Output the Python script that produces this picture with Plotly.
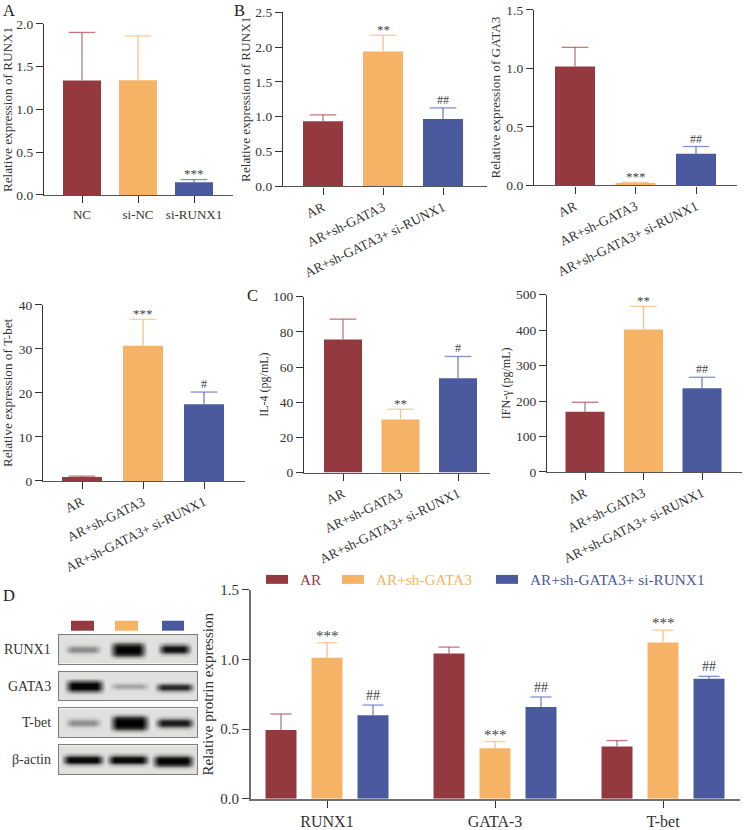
import plotly.graph_objects as go

W, H = 750, 830
RED, ORANGE, BLUE = "#93393f", "#f6b366", "#4b5a9e"
STEM_RED, STEM_ORANGE, STEM_BLUE = "#b07f82", "#f8c089", "#7484b6"
CAP_RED, CAP_ORANGE, CAP_BLUE = "#ad3f4b", "#f8b672", "#4f66bd"
FONT = "Liberation Serif"
INK = "#333333"

groups = ["AR", "AR+sh-GATA3", "AR+sh-GATA3+ si-RUNX1"]
a_groups = ["NC", "si-NC", "si-RUNX1"]
d_targets = ["RUNX1", "GATA-3", "T-bet"]

a_vals = [1.337, 1.34, 0.15]
a_tops = [1.90, 1.86, 0.18]
a_marks = ["", "", "***"]

b_vals = [0.935, 1.937, 0.968]
b_tops = [1.026, 2.17, 1.126]
b_marks = ["", "**", "##"]

gata_vals = [1.017, 0.02, 0.27]
gata_tops = [1.18, 0.026, 0.332]
gata_marks = ["", "***", "##"]

tbet_vals = [0.9, 30.7, 17.4]
tbet_tops = [1.1, 36.7, 20.2]
tbet_marks = ["", "***", "#"]

il4_vals = [75.7, 30.2, 53.6]
il4_tops = [87.2, 36.0, 66.0]
il4_marks = ["", "**", "#"]

ifn_vals = [169.5, 401.7, 236.0]
ifn_tops = [196.6, 467.0, 267.0]
ifn_marks = ["", "**", "##"]

d_ar_vals = [0.494, 1.044, 0.375]
d_ar_tops = [0.609, 1.089, 0.418]
d_sh_vals = [1.013, 0.363, 1.122]
d_sh_tops = [1.12, 0.411, 1.211]
d_si_vals = [0.60, 0.659, 0.862]
d_si_tops = [0.673, 0.731, 0.879]
d_sh_marks = ["***", "***", "***"]
d_si_marks = ["##", "##", "##"]

blot_labels = ["RUNX1", "GATA3", "T-bet", "β-actin"]
# gray level, top to bottom of each blot strip, for each of the three lanes
BG = 232
blot_runx1 = [
    [232, 232, 232, 225, 185, 150, 175, 225, 232, 232, 232],
    [232, 232, 215, 90, 20, 5, 10, 50, 190, 232, 232],
    [232, 232, 232, 170, 50, 15, 60, 190, 232, 232, 232],
]
blot_gata3 = [
    [232, 232, 232, 120, 15, 5, 15, 130, 225, 232, 232],
    [232, 232, 232, 232, 210, 175, 205, 232, 232, 232, 232],
    [232, 232, 232, 232, 170, 50, 50, 180, 232, 232, 232],
]
blot_tbet = [
    [232, 232, 232, 220, 180, 155, 185, 225, 232, 232, 232],
    [232, 232, 190, 50, 5, 0, 5, 50, 190, 232, 232],
    [232, 232, 232, 190, 70, 25, 70, 190, 232, 232, 232],
]
blot_actin = [
    [232, 232, 232, 180, 40, 5, 40, 190, 232, 232, 232],
    [232, 232, 232, 180, 40, 5, 40, 190, 232, 232, 232],
    [232, 232, 232, 190, 60, 5, 5, 70, 210, 232, 232],
]
# first and last image column of each lane's band
lanes_runx1 = [(2, 13), (17, 28), (33, 43)]
lanes_gata3 = [(2, 14), (17, 29), (32, 44)]
lanes_tbet = [(2, 13), (17, 29), (32, 44)]
lanes_actin = [(1, 14), (16, 29), (31, 44)]
lane_edge_fade = [0.3, 0.7]
blot_profiles = [blot_runx1, blot_gata3, blot_tbet, blot_actin]
blot_lanes = [lanes_runx1, lanes_gata3, lanes_tbet, lanes_actin]
BLOT_COLS = 46
BLOT_ROWS = 11

fig = go.Figure()
layout = dict(
    width=W, height=H, margin=dict(l=0, r=0, t=0, b=0), autosize=False,
    paper_bgcolor="white", plot_bgcolor="white", showlegend=False,
    font=dict(family=FONT, color=INK), barmode="overlay",
    annotations=[], shapes=[],
)
annos = layout["annotations"]
shapes = layout["shapes"]


def px(x):
    return x / W


def py(y):
    return 1 - y / H


def add_axes(n, left, right, top, bottom, ymax, dtick, title, title_size, tick_size, standoff,
             xrange, tickangle, x_size, yline="#333333", yline_w=1.3):
    s = "" if n == 1 else str(n)
    layout["xaxis" + s] = dict(
        domain=[px(left), px(right)], range=xrange, anchor="y" + s, type="linear",
        showgrid=False, zeroline=False, showline=True, linecolor="#555555", linewidth=1.4,
        ticks="outside", ticklen=7, tickwidth=1.2, tickcolor="#333333",
        tickangle=tickangle, tickfont=dict(size=x_size, color=INK, family=FONT),
    )
    layout["yaxis" + s] = dict(
        domain=[py(bottom), py(top)], range=[0, ymax], anchor="x" + s, dtick=dtick,
        showgrid=False, zeroline=False, showline=True, linecolor=yline, linewidth=yline_w,
        ticks="outside", ticklen=7, tickwidth=1.2, tickcolor="#333333",
        tickformat=".1f" if dtick < 1 else "d", tickfont=dict(size=tick_size, color=INK, family=FONT),
        title=dict(text=title, font=dict(size=title_size, color=INK, family=FONT), standoff=standoff),
        automargin=False,
    )
    return "x" + s, "y" + s


def add_error(x, val, top, stem, cap, capw, xa, ya):
    fig.add_trace(go.Scatter(
        x=[x, x], y=[val, top], xaxis=xa, yaxis=ya, mode="lines+markers",
        line=dict(color=stem, width=1.3),
        marker=dict(symbol="line-ew", size=[0, capw], color=cap, line=dict(color=cap, width=1.3)),
        hoverinfo="skip",
    ))


def triple(n, labels, vals, tops, marks, left, right, top, bottom, centers, barw, ymax, dtick,
           title, title_size=13.2, tick_size=13.5, standoff=4, tickangle=-26, x_size=13.5, cap=19):
    step = (centers[2] - centers[0]) / 2
    xr = [-(centers[0] - left) / step, (right - centers[0]) / step]
    xa, ya = add_axes(n, left, right, top, bottom, ymax, dtick, title, title_size, tick_size,
                      standoff, xr, tickangle, x_size)
    layout[xa.replace("x", "xaxis")].update(tickmode="array", tickvals=[0, 1, 2], ticktext=labels)
    for i, (color, stem, capc) in enumerate(zip([RED, ORANGE, BLUE], [STEM_RED, STEM_ORANGE, STEM_BLUE],
                                                [CAP_RED, CAP_ORANGE, CAP_BLUE])):
        fig.add_trace(go.Bar(
            x=[i], y=[vals[i]], width=barw / step, xaxis=xa, yaxis=ya, name=labels[i],
            marker=dict(color=color, line=dict(width=0)),
        ))
        add_error(i, vals[i], tops[i], stem, capc, cap, xa, ya)
        if marks[i]:
            annos.append(dict(
                x=i, y=tops[i], xref=xa, yref=ya, text=marks[i], showarrow=False,
                yanchor="bottom", yshift=-3.5 if "*" in marks[i] else -1,
                font=dict(size=13 if "*" in marks[i] else 12, color="#444444", family=FONT),
            ))


triple(1, a_groups, a_vals, a_tops, a_marks, 44, 233, 24, 195.7, [82, 138, 194], 38, 2.0, 0.5,
       "Relative expression of RUNX1", tickangle=0, x_size=13)
triple(2, groups, b_vals, b_tops, b_marks, 283, 487, 12.3, 187, [323, 383, 443], 40, 2.5, 0.5,
       "Relative expression of RUNX1", standoff=1)
triple(3, groups, gata_vals, gata_tops, gata_marks, 534, 737, 10, 186, [575, 635, 696], 40, 1.5, 0.5,
       "Relative expression of GATA3", standoff=2)
triple(4, groups, tbet_vals, tbet_tops, tbet_marks, 43, 245, 306, 482.7, [82, 143, 204], 40, 40, 10,
       "Relative expression of T-bet")
triple(5, groups, il4_vals, il4_tops, il4_marks, 304, 490, 297.7, 474.3, [343, 400.5, 458], 38, 100, 20,
       "IL-4 (pg/mL)", title_size=12, standoff=1)
triple(6, groups, ifn_vals, ifn_tops, ifn_marks, 547, 742, 295.7, 473.7, [585, 643.7, 702], 39, 500, 100,
       "IFN-γ (pg/mL)", title_size=12, standoff=2)

# Panel D bar chart
d_step = 168
d_xa, d_ya = add_axes(7, 251, 740, 592, 801.7, 1.5, 0.5, "Relative protrin expression", 15, 15, 3,
                      [-(327 - 251) / d_step, (740 - 327) / d_step], 0, 16,
                      yline="#707070", yline_w=2)
layout["xaxis7"].update(tickmode="array", tickvals=[0, 1, 2], ticktext=d_targets,
                        linecolor="#707070", linewidth=2)
d_bar_w = 31
d_offsets = [-46, 0, 46]
for off, color, stem, capc, vals, tops, marks in [
    (d_offsets[0], RED, STEM_RED, CAP_RED, d_ar_vals, d_ar_tops, None),
    (d_offsets[1], ORANGE, STEM_ORANGE, CAP_ORANGE, d_sh_vals, d_sh_tops, d_sh_marks),
    (d_offsets[2], BLUE, STEM_BLUE, CAP_BLUE, d_si_vals, d_si_tops, d_si_marks),
]:
    xs = [i + off / d_step for i in range(3)]
    fig.add_trace(go.Bar(
        x=xs, y=vals, width=d_bar_w / d_step, xaxis=d_xa, yaxis=d_ya,
        marker=dict(color=color, line=dict(width=0)),
    ))
    for x, v, t in zip(xs, vals, tops):
        add_error(x, v, t, stem, capc, 15, d_xa, d_ya)
    if marks:
        for x, t, m in zip(xs, tops, marks):
            annos.append(dict(
                x=x, y=t, xref=d_xa, yref=d_ya, text=m, showarrow=False, yanchor="bottom",
                yshift=-3 if "*" in m else 0,
                font=dict(size=15 if "*" in m else 14, color="#444444", family=FONT),
            ))

# Legend of panel D
for (x0, x1, tx), color, label in zip(
    [(266, 288, 298), (342, 364, 374), (496, 518, 527.5)], [RED, ORANGE, BLUE], groups
):
    shapes.append(dict(type="rect", xref="paper", yref="paper", x0=px(x0), x1=px(x1),
                       y0=py(586), y1=py(577), fillcolor=color, line=dict(width=0)))
    annos.append(dict(x=px(tx), y=py(581.5), xref="paper", yref="paper", text=label, showarrow=False,
                      xanchor="left", yanchor="middle", font=dict(size=15.3, color=color, family=FONT)))

# Blots of panel D
blot_tops = [637, 674, 711, 748]
for k, (profiles, lanes, t, label) in enumerate(zip(blot_profiles, blot_lanes, blot_tops, blot_labels)):
    n = 8 + k
    xa, ya = f"x{n}", f"y{n}"
    b = t + 29
    z = [[BG] * BLOT_COLS for _ in range(BLOT_ROWS)]
    for prof, (c0, c1) in zip(profiles, lanes):
        for r in range(BLOT_ROWS):
            for c in range(c0, c1 + 1):
                d = min(c - c0, c1 - c)
                soft = lane_edge_fade[d] if d < len(lane_edge_fade) else 1.0
                z[r][c] = BG - (BG - prof[r]) * soft
    layout[f"xaxis{n}"] = dict(domain=[px(59), px(197)], anchor=ya, showticklabels=False, ticks="",
                               showgrid=False, zeroline=False, showline=True, mirror=True,
                               linecolor="#7d7d7d", linewidth=1.4, range=[-0.5, BLOT_COLS - 0.5])
    layout[f"yaxis{n}"] = dict(domain=[py(b), py(t)], anchor=xa, showticklabels=False, ticks="",
                               showgrid=False, zeroline=False, showline=True, mirror=True,
                               linecolor="#7d7d7d", linewidth=1.4, range=[BLOT_ROWS - 0.5, -0.5])
    fig.add_trace(go.Heatmap(z=z, xaxis=xa, yaxis=ya, zmin=0, zmax=255, zsmooth="best",
                             colorscale="gray", showscale=False, hoverinfo="skip"))
    annos.append(dict(x=px(52.5), y=py(t + 14.5), xref="paper", yref="paper", text=label, showarrow=False,
                      xanchor="right", yanchor="middle", font=dict(size=14, color=INK, family=FONT)))

for (x0, x1), color in zip([(71, 94), (115, 138), (162, 184)], [RED, ORANGE, BLUE]):
    shapes.append(dict(type="rect", xref="paper", yref="paper", x0=px(x0), x1=px(x1),
                       y0=py(633), y1=py(623), fillcolor=color, line=dict(width=0)))

# Panel letters
for letter, x, y in [("A", 2, 0), ("B", 233, 0), ("C", 246, 286), ("D", 2, 587)]:
    annos.append(dict(x=px(x), y=py(y), xref="paper", yref="paper", text=letter, showarrow=False,
                      xanchor="left", yanchor="top", borderpad=0,
                      font=dict(size=16.5, color="#222222", family=FONT)))

fig.update_layout(**layout)
fig.write_html("out.html", config={"displayModeBar": False},
               post_script="document.body.style.margin='0';document.documentElement.style.overflow='hidden';")
